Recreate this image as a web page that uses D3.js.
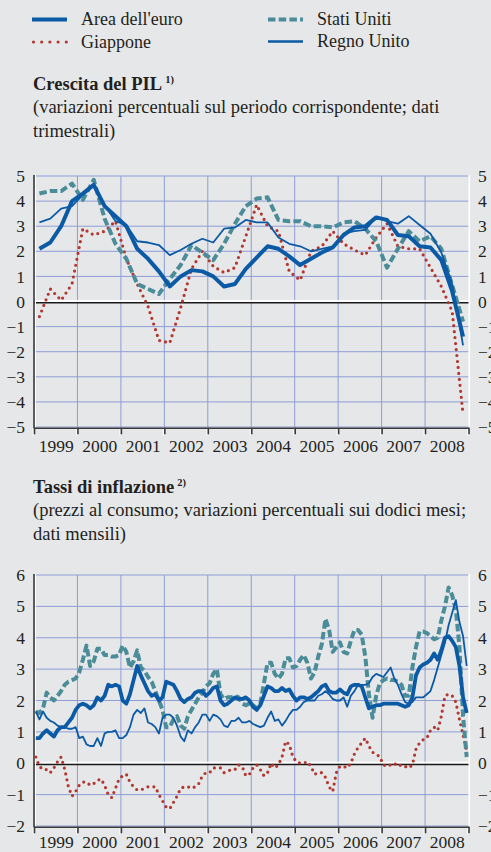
<!DOCTYPE html>
<html>
<head>
<meta charset="utf-8">
<script src="https://cdn.jsdelivr.net/npm/d3@7"></script>
<style>
  body { margin: 0; background: #e6e7e9; }
  svg { display: block; font-family: "Liberation Serif", "Times New Roman", serif; }
</style>
</head>
<body>
<div id="chart"></div>
<script>
// Year labels shared by both panels
const years = ["1999", "2000", "2001", "2002", "2003", "2004", "2005", "2006", "2007", "2008"];

// GDP growth, quarterly (1999 Q1 - 2008 Q4)
const gdpEuro = [2.1, 2.35, 3.0, 4.0, 4.3, 4.65, 3.8, 3.4, 3.0, 2.1, 1.7, 1.2,
  0.6, 1.0, 1.25, 1.2, 1.0, 0.6, 0.7, 1.3, 1.75, 2.2, 2.1, 1.8,
  1.45, 1.7, 1.95, 2.15, 2.65, 2.95, 3.0, 3.35, 3.25, 2.65, 2.6, 2.2,
  2.15, 1.65, 0.4, -1.4];
const gdpUS = [4.3, 4.4, 4.4, 4.7, 4.05, 4.85, 3.3, 2.3, 1.7, 0.7, 0.5, 0.3,
  0.9, 1.45, 2.25, 1.95, 1.65, 2.3, 3.1, 3.8, 4.1, 4.15, 3.25, 3.2,
  3.2, 3.0, 3.0, 2.95, 3.15, 3.2, 2.9, 2.4, 1.35, 2.1, 2.8, 2.4,
  2.6, 2.1, 0.65, -0.8];
const gdpJP = [-0.6, 0.5, 0.05, 0.7, 2.9, 2.65, 2.8, 3.2, 1.7, 0.7, -0.2, -1.55,
  -1.65, -0.25, 1.3, 2.0, 1.4, 1.15, 1.35, 2.6, 3.85, 3.0, 2.8, 1.2,
  0.85, 2.0, 2.2, 2.8, 2.3, 2.05, 1.85, 2.55, 3.1, 2.2, 2.1, 2.1,
  1.35, 0.6, -0.4, -4.5];
const gdpUK = [3.15, 3.3, 3.7, 3.8, 4.25, 4.6, 3.85, 3.2, 3.05, 2.4, 2.35, 2.25,
  1.85, 2.05, 2.3, 2.5, 2.35, 2.9, 2.95, 3.25, 3.15, 3.15, 2.55, 2.3,
  2.2, 2.0, 2.1, 2.2, 2.7, 2.8, 2.85, 3.35, 3.2, 3.1, 3.4, 3.05,
  2.7, 1.95, 0.7, -1.75];

// Consumer price inflation, monthly (Jan 1999 - Dec 2008)
const cpiEuro = [
  0.8, 0.8, 0.95, 1.05, 0.95, 0.85, 1.05, 1.15, 1.15, 1.3, 1.45, 1.7,
  1.85, 1.9, 1.85, 1.75, 1.85, 2.1, 2.0, 2.15, 2.5, 2.45, 2.5, 2.45,
  2.0, 1.9, 2.2, 2.65, 3.1, 2.8, 2.55, 2.3, 2.15, 2.2, 2.0, 2.1,
  2.6, 2.55, 2.5, 2.3, 2.05, 1.95, 2.05, 2.1, 2.25, 2.3, 2.3, 2.15,
  2.25, 2.4, 2.45, 2.0, 1.85, 1.9, 2.0, 2.1, 2.05, 2.05, 2.1, 2.0,
  1.8, 1.7, 1.85, 2.15, 2.45, 2.4, 2.3, 2.3, 2.4, 2.3, 2.35, 2.15,
  2.0, 2.1, 2.1, 2.05, 2.1, 2.2, 2.3, 2.45, 2.5, 2.3, 2.25, 2.25,
  2.35, 2.25, 2.2, 2.45, 2.5, 2.5, 2.45, 2.1, 1.75, 1.8, 1.85, 1.85,
  1.9, 1.9, 1.9, 1.9, 1.9, 1.85, 1.8, 1.85, 2.1, 2.8, 3.05, 3.15,
  3.2, 3.3, 3.5, 3.3, 3.6, 4.0, 4.05, 3.9, 3.7, 3.1, 2.1, 1.6];
const cpiUS = [
  1.65, 1.6, 1.75, 2.25, 2.1, 2.0, 2.15, 2.3, 2.5, 2.6, 2.65, 2.7,
  2.9, 3.3, 3.75, 3.1, 3.25, 3.65, 3.65, 3.45, 3.45, 3.4, 3.4, 3.45,
  3.75, 3.55, 3.05, 3.25, 3.6, 3.05, 2.95, 2.75, 2.6, 2.3, 2.0, 1.7,
  1.15, 1.15, 1.4, 1.5, 1.2, 1.1, 1.5, 1.7, 1.9, 2.1, 2.25, 2.45,
  2.55, 2.85, 3.0, 2.2, 2.05, 2.1, 2.1, 2.15, 2.1, 1.9, 1.85, 1.9,
  1.85, 1.75, 1.9, 2.55, 3.2, 3.2, 2.85, 2.7, 2.85, 3.35, 3.35, 3.05,
  3.1, 3.3, 3.45, 3.2, 2.7, 2.9, 3.4, 3.8, 4.6, 4.25, 3.55, 3.7,
  3.85, 3.55, 3.5, 3.9, 4.25, 4.25, 4.1, 3.4, 2.2, 1.45, 2.15, 2.55,
  2.65, 2.7, 2.65, 2.65, 2.6, 2.5, 2.15, 2.15, 3.05, 3.7, 4.2, 4.2,
  4.15, 4.05, 3.95, 4.0, 4.55, 5.0, 5.6, 5.35, 4.9, 3.7, 1.5, 0.2];
const cpiJP = [
  0.2, -0.1, -0.2, -0.2, -0.3, -0.15, 0.05, 0.2, -0.2, -0.75, -1.05, -0.9,
  -0.7, -0.6, -0.6, -0.7, -0.65, -0.55, -0.5, -0.7, -1.0, -1.1, -0.8, -0.5,
  -0.4, -0.35, -0.6, -0.75, -0.85, -0.85, -0.8, -0.75, -0.75, -0.75, -1.0, -1.2,
  -1.4, -1.45, -1.25, -1.05, -0.8, -0.75, -0.75, -0.8, -0.75, -0.65, -0.4, -0.3,
  -0.3, -0.15, -0.15, -0.15, -0.3, -0.25, -0.2, -0.2, -0.05, -0.1, -0.4, -0.35,
  -0.15, -0.05, -0.2, -0.4, -0.3, 0.0, -0.15, -0.05, 0.2, 0.7, 0.6, 0.2,
  0.05, 0.0, 0.0, 0.05, -0.1, -0.35, -0.3, -0.3, -0.45, -0.75, -0.9, -0.3,
  -0.1, -0.1, -0.15, 0.0, 0.3, 0.5, 0.65, 0.8, 0.55, 0.35, 0.3, 0.2,
  -0.05, -0.1, -0.05, 0.0, -0.1, -0.05, -0.1, -0.15, -0.05, 0.45, 0.65, 0.75,
  0.8, 1.05, 1.15, 1.05, 1.5, 2.15, 2.2, 2.15, 1.95, 1.4, 0.9, 0.4];
const cpiUK = [
  1.65, 1.4, 1.65, 1.45, 1.35, 1.3, 1.2, 1.15, 1.15, 1.1, 1.1, 1.15,
  0.8, 0.85, 0.6, 0.55, 0.55, 0.8, 0.55, 0.95, 1.0, 1.0, 1.05, 0.8,
  0.8, 0.9, 1.15, 1.55, 1.7, 1.6, 1.75, 1.3, 1.25, 1.15, 0.95, 1.45,
  1.55, 1.55, 1.45, 1.2, 0.85, 0.7, 1.05, 0.95, 1.15, 1.3, 1.55, 1.55,
  1.35, 1.55, 1.5, 1.4, 1.2, 1.15, 1.35, 1.35, 1.45, 1.3, 1.3, 1.35,
  1.25, 1.2, 1.15, 1.2, 1.45, 1.65, 1.35, 1.4, 1.2, 1.35, 1.55, 1.7,
  1.7, 1.8, 1.95, 2.0, 2.0, 2.0, 2.15, 2.2, 2.3, 2.2, 2.05, 2.0,
  2.0, 2.1, 1.8, 2.15, 2.3, 2.5, 2.5, 2.5, 2.55, 2.75, 2.85, 2.8,
  2.75, 2.9, 3.05, 2.7, 2.5, 2.2, 1.95, 1.9, 1.95, 2.1, 2.1, 2.1,
  2.2, 2.3, 2.65, 3.05, 3.45, 3.85, 4.4, 4.8, 5.2, 4.5, 4.05, 3.1];

const width = 491;
const height = 852;
const bg = "#e6e7e9";
const gridCol = "#8e9dd6";
const blue = "#0b5aa5";

// Series styles (same for both panels, euro line drawn last)
const styles = {
    jp:   { stroke: "#b2372f", width: 3.2, dash: "0,6", cap: "round" },
    us:   { stroke: "#4b8c99", width: 4, dash: "7.5,3.2", cap: "butt" },
    uk:   { stroke: blue, width: 1.8, dash: null, cap: "butt" },
    euro: { stroke: blue, width: 4, dash: null, cap: "butt" }
};

const svg = d3.select("#chart").append("svg")
    .attr("width", width)
    .attr("height", height);

svg.append("rect").attr("width", width).attr("height", height).attr("fill", bg);

// Legend
const legend = [
    { key: "euro", label: "Area dell'euro", x: 32, y: 19.5 },
    { key: "jp", label: "Giappone", x: 32, y: 42 },
    { key: "us", label: "Stati Uniti", x: 268, y: 19.5 },
    { key: "uk", label: "Regno Unito", x: 268, y: 41.5 }
];
legend.forEach(d => {
    const s = styles[d.key];
    svg.append("line")
        .attr("x1", d.key === "jp" ? d.x + 1.5 : d.x)
        .attr("x2", d.x + 35)
        .attr("y1", d.y).attr("y2", d.y)
        .attr("stroke", s.stroke)
        .attr("stroke-width", d.key === "uk" ? 2.7 : s.width)
        .attr("stroke-dasharray", d.key === "jp" ? "0,8.2" : s.dash)
        .attr("stroke-linecap", s.cap);
    svg.append("text")
        .attr("x", d.x + 49)
        .attr("y", d.y + 5.5)
        .attr("font-size", "18px")
        .attr("fill", "#231f20")
        .text(d.label);
});

// Panel titles
function addTitle(y, title, note, lines) {
    const t = svg.append("text")
        .attr("x", 33).attr("y", y)
        .attr("font-size", "18.5px")
        .attr("font-weight", "bold")
        .attr("fill", "#231f20")
        .text(title);
    t.append("tspan")
        .attr("dx", 3).attr("dy", -7)
        .attr("font-size", "10.5px")
        .text(note);
    lines.forEach((l, i) => {
        svg.append("text")
            .attr("x", 33).attr("y", y + 23 + i * 23.5)
            .attr("font-size", "18.5px")
            .attr("fill", "#231f20")
            .text(l);
    });
}

addTitle(90, "Crescita del PIL", "1)",
    ["(variazioni percentuali sul periodo corrispondente; dati", "trimestrali)"]);
addTitle(493, "Tassi di inflazione", "2)",
    ["(prezzi al consumo; variazioni percentuali sui dodici mesi;", "dati mensili)"]);

function drawPanel(cfg) {
    const g = svg.append("g");
    const n = cfg.series[0].values.length;
    const per = n / years.length;

    const x = d3.scaleLinear().domain([0, n]).range([34, 468.5]);
    const y = d3.scaleLinear().domain(cfg.yDomain).range([cfg.bottom, cfg.top]);
    const yTicks = d3.range(cfg.yDomain[0], cfg.yDomain[1] + 1);
    const bounds = d3.range(0, n + 1, per);

    // Grid
    g.append("g").selectAll("line")
        .data(yTicks.filter(d => d !== 0))
        .join("line")
        .attr("x1", x(0)).attr("x2", x(n))
        .attr("y1", d => y(d)).attr("y2", d => y(d))
        .attr("stroke", gridCol).attr("stroke-width", 1);
    g.append("g").selectAll("line")
        .data(bounds.slice(1, -1))
        .join("line")
        .attr("x1", d => x(d)).attr("x2", d => x(d))
        .attr("y1", cfg.top).attr("y2", cfg.bottom)
        .attr("stroke", gridCol).attr("stroke-width", 1);

    // Zero line with light highlight above it
    g.append("line")
        .attr("x1", x(0)).attr("x2", x(n) + 1.5)
        .attr("y1", y(0) - 0.6).attr("y2", y(0) - 0.6)
        .attr("stroke", "#ffffff").attr("stroke-width", 1.6);
    g.append("line")
        .attr("x1", x(0)).attr("x2", x(n) + 1.5)
        .attr("y1", y(0) + 1.2).attr("y2", y(0) + 1.2)
        .attr("stroke", "#1a1a1a").attr("stroke-width", 1.6);

    // Frame: dark left side, light right side
    g.append("line")
        .attr("x1", x(n) + 0.8).attr("x2", x(n) + 0.8)
        .attr("y1", cfg.top - 1).attr("y2", cfg.bottom)
        .attr("stroke", "#ffffff").attr("stroke-width", 1.6);
    g.append("line")
        .attr("x1", x(0) + 1.5).attr("x2", x(0) + 1.5)
        .attr("y1", cfg.top - 1).attr("y2", cfg.bottom)
        .attr("stroke", "#ffffff").attr("stroke-width", 1);
    g.append("line")
        .attr("x1", x(0)).attr("x2", x(0))
        .attr("y1", cfg.top - 1).attr("y2", cfg.bottom + 1)
        .attr("stroke", "#3a3a3a").attr("stroke-width", 1.6);

    // Year boundary ticks (white shadow + dark tick)
    const tickAxis = d3.axisBottom(x).tickValues(bounds).tickSize(6.5).tickSizeOuter(0).tickFormat("");
    g.append("g")
        .attr("transform", `translate(-1.4, ${cfg.bottom + 2})`)
        .call(tickAxis)
        .call(a => a.select(".domain").remove())
        .call(a => a.selectAll(".tick line").attr("stroke", "#ffffff").attr("stroke-width", 1.2));
    g.append("g")
        .attr("transform", `translate(0, ${cfg.bottom + 0.8})`)
        .call(tickAxis)
        .call(a => a.select(".domain").attr("stroke", "#3a3a3a").attr("stroke-width", 1.6))
        .call(a => a.selectAll(".tick line").attr("stroke", "#3a3a3a").attr("stroke-width", 1.6));

    // Year labels centred in each year
    g.append("g")
        .attr("transform", `translate(0, ${cfg.labelY})`)
        .call(d3.axisBottom(x).tickValues(bounds.slice(0, -1).map(d => d + per / 2))
            .tickSize(0).tickFormat((d, i) => years[i]))
        .call(a => a.select(".domain").remove())
        .call(a => a.selectAll("text")
            .attr("y", 0).attr("dy", 0)
            .attr("font-family", "Liberation Serif, serif")
            .attr("font-size", "17.5px")
            .attr("fill", "#231f20"));

    // Value labels, left and right
    const styleY = a => a.call(s => s.select(".domain").remove())
        .selectAll("text")
        .attr("font-family", "Liberation Serif, serif")
        .attr("font-size", "17.5px")
        .attr("fill", "#231f20");
    g.append("g")
        .attr("transform", "translate(25, 0)")
        .call(d3.axisLeft(y).tickValues(yTicks).tickSize(0).tickPadding(0))
        .call(styleY);
    g.append("g")
        .attr("transform", "translate(478, 0)")
        .call(d3.axisRight(y).tickValues(yTicks).tickSize(0).tickPadding(0))
        .call(styleY);

    // Series
    const line = d3.line()
        .x((d, i) => x(i + 0.5))
        .y(d => y(d));
    cfg.series.forEach(s => {
        const st = styles[s.key];
        g.append("path")
            .datum(s.values)
            .attr("d", line)
            .attr("fill", "none")
            .attr("stroke", st.stroke)
            .attr("stroke-width", s.key === "euro" ? cfg.euroWidth : st.width)
            .attr("stroke-dasharray", st.dash)
            .attr("stroke-linecap", st.cap)
            .attr("stroke-linejoin", "round");
    });
}

drawPanel({
    top: 176, bottom: 427, yDomain: [-5, 5], labelY: 452, euroWidth: 4,
    series: [
        { key: "jp", values: gdpJP },
        { key: "us", values: gdpUS },
        { key: "uk", values: gdpUK },
        { key: "euro", values: gdpEuro }
    ]
});

drawPanel({
    top: 575, bottom: 826, yDomain: [-2, 6], labelY: 848, euroWidth: 3.8,
    series: [
        { key: "jp", values: cpiJP },
        { key: "us", values: cpiUS },
        { key: "uk", values: cpiUK },
        { key: "euro", values: cpiEuro }
    ]
});
</script>
</body>
</html>
